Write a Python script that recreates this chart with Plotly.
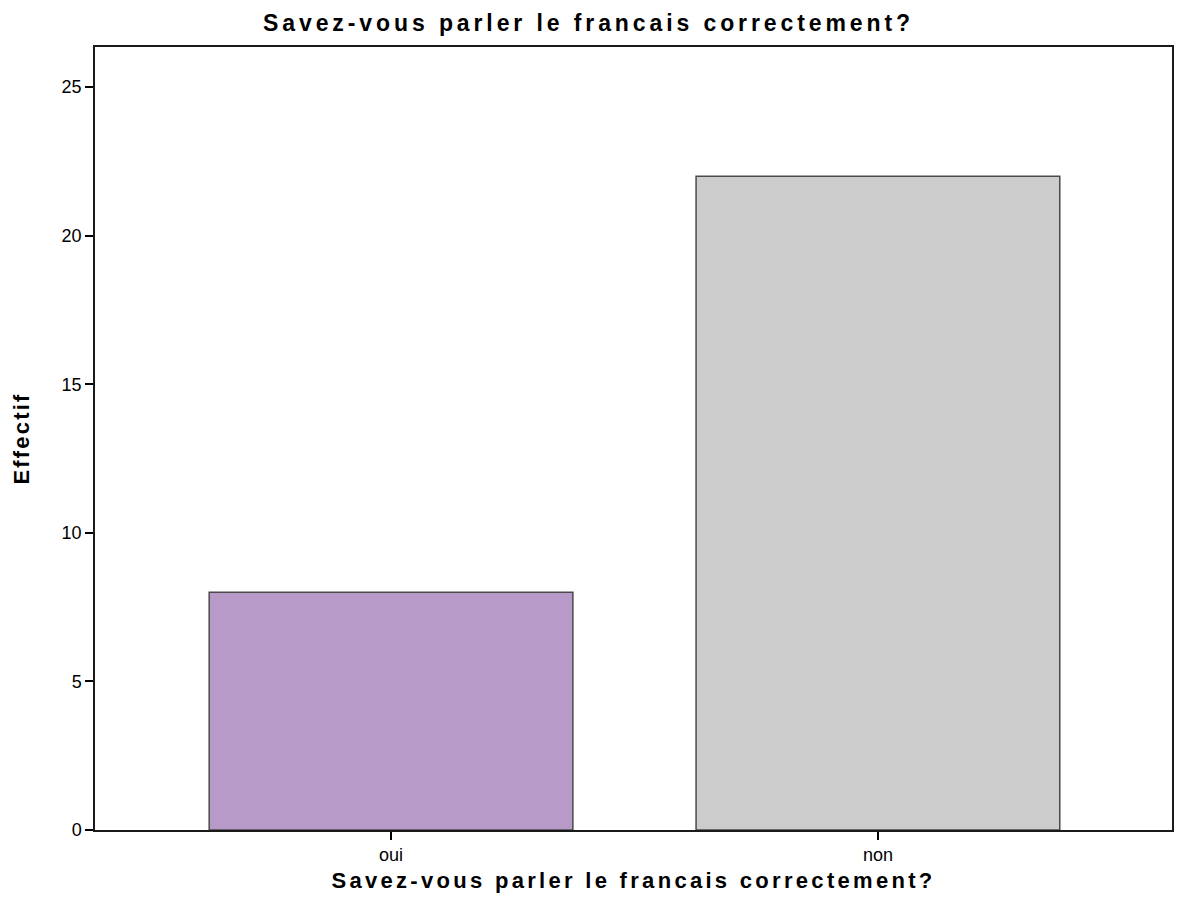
import plotly.graph_objects as go

categories = ["oui", "non"]
counts = [8, 22]
colors = ["#B89AC8", "#CCCCCC"]
y_ticks = [0, 5, 10, 15, 20, 25]

title_text = "Savez-vous parler le francais correctement?"
y_title = "Effectif"
font_family = "Liberation Sans, Arial, sans-serif"


def spaced(text, px, bold=True):
    inner = '<span style="letter-spacing:%.1fpx">%s</span>' % (px, text)
    return "<b>" + inner + "</b>" if bold else inner


fig = go.Figure(
    go.Bar(
        x=list(range(len(categories))),
        y=counts,
        width=0.747,
        marker=dict(color=colors, line=dict(color="#4a4a4a", width=1.5)),
    )
)

fig.update_layout(
    width=1177,
    height=917,
    paper_bgcolor="white",
    plot_bgcolor="white",
    margin=dict(l=95, r=5, t=47, b=87),
    showlegend=False,
    title=dict(
        text=spaced(title_text, 3.9),
        x=0.5,
        xanchor="center",
        y=1 - 23 / 917,
        yanchor="middle",
        font=dict(family=font_family, size=23, color="black"),
    ),
    font=dict(family=font_family, size=18, color="black"),
)

fig.update_xaxes(
    tickmode="array",
    tickvals=list(range(len(categories))),
    ticktext=categories,
    range=[-0.608, 1.604],
    showgrid=False,
    zeroline=False,
    showline=True,
    linecolor="#1a1a1a",
    linewidth=1.5,
    mirror=True,
    ticks="outside",
    ticklen=8,
    tickwidth=1.5,
    tickcolor="black",
    tickfont=dict(size=18),
    automargin=False,
    title=dict(
        text=spaced(title_text, 3.3),
        font=dict(size=22),
        standoff=8,
    ),
)

fig.update_yaxes(
    tickmode="array",
    tickvals=y_ticks,
    range=[0, 26.35],
    showgrid=False,
    zeroline=False,
    showline=True,
    linecolor="#1a1a1a",
    linewidth=1.5,
    mirror=True,
    ticks="outside",
    ticklen=8,
    tickwidth=1.5,
    tickcolor="black",
    tickfont=dict(size=18),
    automargin=False,
    title=dict(
        text=spaced(y_title, 2.2),
        font=dict(size=22),
        standoff=26,
    ),
)

fig.write_html(
    "out.html",
    config={"displayModeBar": False},
    post_script="document.body.style.margin='0';document.body.style.overflow='hidden';",
)
